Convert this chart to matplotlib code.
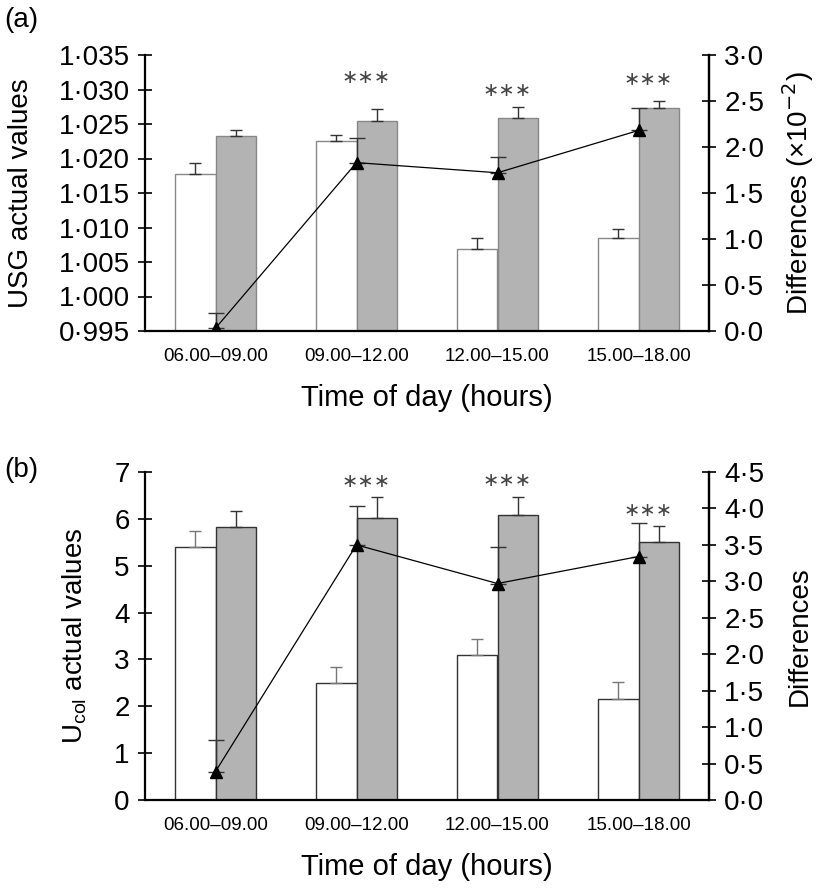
import matplotlib
matplotlib.use('Agg')
import matplotlib.pyplot as plt
import numpy as np

# Data
periods = ['06.00\u201309.00', '09.00\u201312.00', '12.00\u201315.00', '15.00\u201318.00']

# (a) urine specific gravity
usg_white = [1.0177, 1.0226, 1.0069, 1.0085]
usg_white_err = [0.0016, 0.0008, 0.0016, 0.0013]
usg_grey = [1.0232, 1.0255, 1.0259, 1.0273]
usg_grey_err = [0.0010, 0.0017, 0.0015, 0.0011]
usg_diff = [0.03, 1.83, 1.72, 2.18]
usg_diff_err = [0.17, 0.27, 0.17, 0.24]
usg_stars = [False, True, True, True]
usg_star_y = [None, 1.0317, 1.0298, 1.0315]

# (b) urine colour
col_white = [5.41, 2.49, 3.09, 2.15]
col_white_err = [0.34, 0.34, 0.34, 0.36]
col_grey = [5.82, 6.02, 6.08, 5.51]
col_grey_err = [0.34, 0.45, 0.38, 0.33]
col_diff = [0.39, 3.50, 2.97, 3.34]
col_diff_err = [0.44, 0.54, 0.50, 0.46]
col_stars = [False, True, True, True]
col_star_y = [None, 6.80, 6.81, 6.18]

plt.rcParams['font.family'] = ['Liberation Sans', 'DejaVu Sans']

W, H = 819, 889
fig = plt.figure(figsize=(W / 100, H / 100), dpi=100)

x = np.arange(len(periods))
bw = 0.285


def dot_fmt(dec):
    return plt.FuncFormatter(lambda v, p: f'{v:.{dec}f}'.replace('.', '\u00b7'))


def style_axis(ax):
    ax.spines['top'].set_visible(False)
    for s in ['left', 'right', 'bottom']:
        ax.spines[s].set_linewidth(1.6)
    ax.tick_params(axis='y', direction='inout', length=10, width=1.2,
                   labelsize=20, pad=6)
    ax.tick_params(axis='x', length=0, labelsize=13.5, pad=12)


def panel(rect, white, werr, grey, gerr, diff, derr, stars, star_y,
          ylim, yticks, ydec, y2lim, y2ticks, ylabel, y2label, edge, werr_col, y2pad):
    ax = fig.add_axes(rect)
    zeros = np.zeros(len(x))
    ax.bar(x - bw / 2, white, bw, color='white', edgecolor=edge, linewidth=1.0,
           yerr=[zeros, werr], capsize=4, error_kw=dict(ecolor=werr_col, elinewidth=1.0, capthick=1.0))
    ax.bar(x + bw / 2, grey, bw, color='#b3b3b3', edgecolor=edge, linewidth=1.0,
           yerr=[zeros, gerr], capsize=4, error_kw=dict(ecolor='#333333', elinewidth=1.0, capthick=1.0))
    ax.set_xlim(-0.5, 3.5)
    ax.set_ylim(*ylim)
    ax.set_yticks(yticks)
    ax.yaxis.set_major_formatter(dot_fmt(ydec))
    ax.set_xticks(x)
    ax.set_xticklabels(periods)
    style_axis(ax)
    ax.set_ylabel(ylabel, fontsize=20, labelpad=18)
    ax.set_xlabel('Time of day (hours)', fontsize=21, labelpad=14)
    for i, s in enumerate(stars):
        if s:
            ax.text(x[i] + 0.07, star_y[i], '\u2217\u2217\u2217', ha='center', va='center',
                    fontsize=14, color='#444444', family=['DejaVu Sans'])

    ax2 = ax.twinx()
    ax2.set_ylim(*y2lim)
    ax2.set_yticks(y2ticks)
    ax2.yaxis.set_major_formatter(dot_fmt(1))
    style_axis(ax2)
    ax2.spines['left'].set_visible(False)
    ax2.spines['bottom'].set_visible(False)
    ax2.errorbar(x, diff, yerr=[zeros, derr], color='black', lw=0.9, marker='^',
                 markersize=8, capsize=6, elinewidth=1.0, ecolor='#333333', capthick=1.0)
    ax2.set_ylabel(y2label, fontsize=20, labelpad=y2pad)
    return ax, ax2


panel([145 / W, 1 - 331 / H, 564 / W, 276 / H],
      usg_white, usg_white_err, usg_grey, usg_grey_err, usg_diff, usg_diff_err,
      usg_stars, usg_star_y,
      (0.995, 1.035), np.arange(0.995, 1.0351, 0.005), 3,
      (0, 3.0), np.arange(0, 3.01, 0.5),
      'USG actual values', 'Differences (\u00d710$^{\u22122}$)', '#888888', '#333333', 11)

panel([145 / W, 1 - 800 / H, 564 / W, 328 / H],
      col_white, col_white_err, col_grey, col_grey_err, col_diff, col_diff_err,
      col_stars, col_star_y,
      (0, 7), np.arange(0, 8, 1), 0,
      (0, 4.5), np.arange(0, 4.51, 0.5),
      'U$_{\\mathregular{col}}$ actual values', 'Differences', '#333333', '#777777', 16)

fig.text(4 / W, 1 - 20 / H, '(a)', fontsize=20, ha='left', va='center')
fig.text(4 / W, 1 - 470 / H, '(b)', fontsize=20, ha='left', va='center')

fig.savefig('out.png', dpi=100)
